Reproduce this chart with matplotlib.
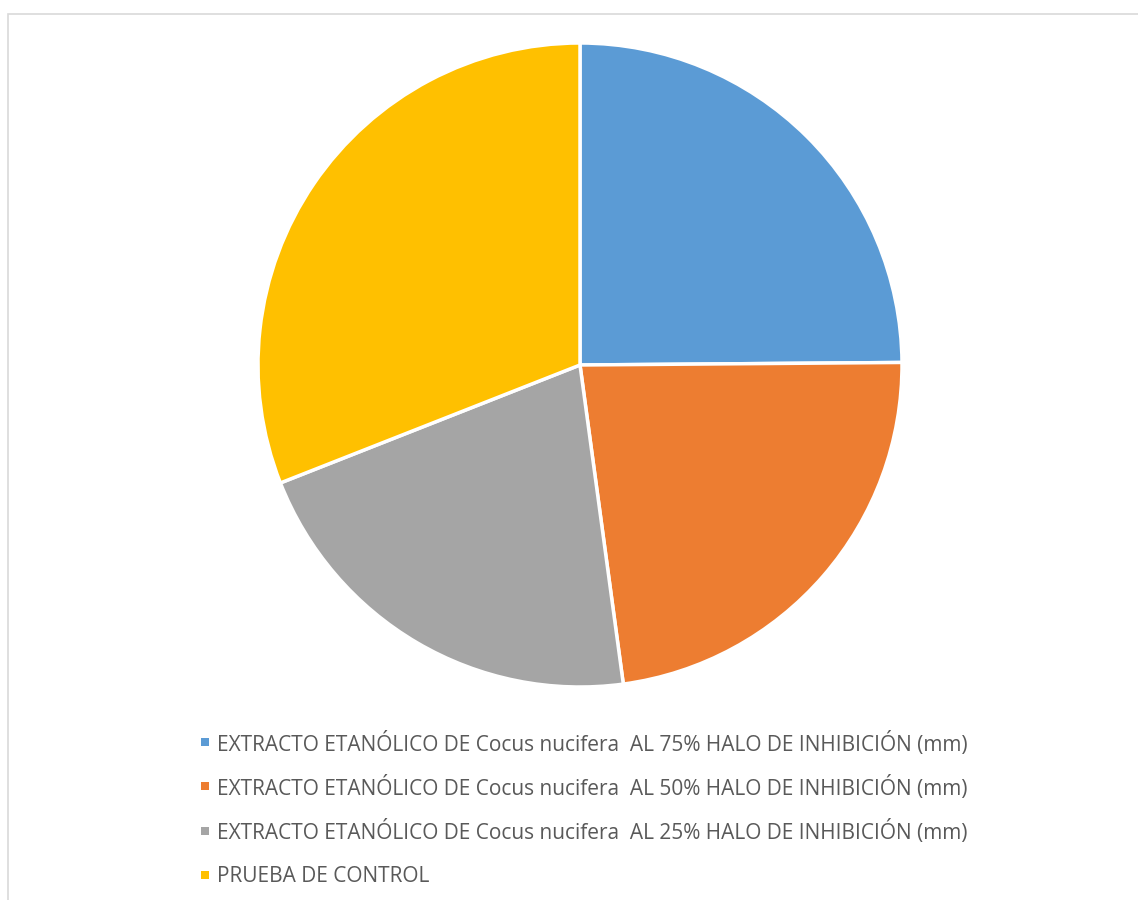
import matplotlib
matplotlib.use("Agg")
import matplotlib.pyplot as plt
from matplotlib.patches import Rectangle

labels = [
    "EXTRACTO ETANÓLICO DE Cocus nucifera  AL 75% HALO DE INHIBICIÓN (mm)",
    "EXTRACTO ETANÓLICO DE Cocus nucifera  AL 50% HALO DE INHIBICIÓN (mm)",
    "EXTRACTO ETANÓLICO DE Cocus nucifera  AL 25% HALO DE INHIBICIÓN (mm)",
    "PRUEBA DE CONTROL",
]
values = [24.9, 23.0, 21.2, 31.0]
colors = ["#5B9BD5", "#ED7D31", "#A5A5A5", "#FFC000"]

family = "Open Sans"

W, H = 1138, 900
fig = plt.figure(figsize=(W / 100, H / 100), dpi=100)
fig.patch.set_facecolor("white")

# chart border
fig.add_artist(Rectangle((8 / W, -0.01), 1.2, 1 - 14 / H + 0.01, transform=fig.transFigure,
                         fill=False, edgecolor="#D9D9D9", linewidth=1.2))

cx, cy, r = 580, 365, 322
ax = fig.add_axes([(cx - r) / W, 1 - (cy + r) / H, 2 * r / W, 2 * r / H])
wedges, _ = ax.pie(values, colors=colors, startangle=90, counterclock=False,
                   wedgeprops=dict(edgecolor="white", linewidth=2.5))
ax.set_xlim(-1.0, 1.0)
ax.set_ylim(-1.0, 1.0)
ax.set_aspect("equal")
ax.axis("off")

# legend
y0, dy = 741, 44.5
for i, (lab, col) in enumerate(zip(labels, colors)):
    yc = y0 + dy * i
    fig.add_artist(Rectangle((201 / W, 1 - (yc + 4.5) / H), 8 / W, 8 / H,
                             transform=fig.transFigure, facecolor=col, edgecolor="none"))
    fig.text(217 / W, 1 - yc / H, lab, family=family, fontsize=15, color="#595959",
             ha="left", va="center_baseline")

fig.savefig("out.png", dpi=100, facecolor="white")
